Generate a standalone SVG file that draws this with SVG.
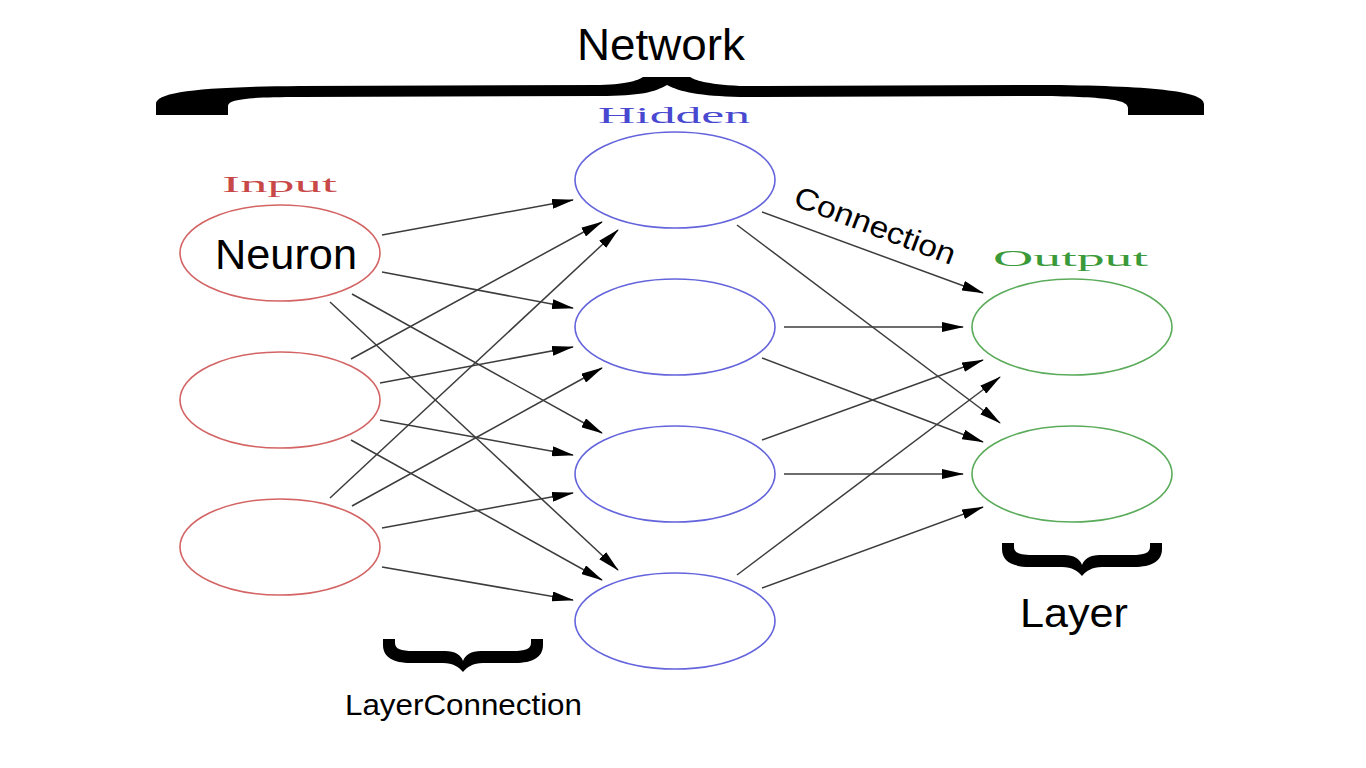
<svg xmlns="http://www.w3.org/2000/svg" width="1366" height="768" viewBox="0 0 1366 768">
<style>
.in{fill:none;stroke:#d46464;stroke-width:1.6}
.hid{fill:none;stroke:#6464dc;stroke-width:1.6}
.out{fill:none;stroke:#5aab5a;stroke-width:1.6}
.lbl{font-family:"Liberation Serif",serif;font-size:23px}
.big{font-family:"Liberation Sans",Arial,sans-serif;fill:#000}
.conn line{stroke:#3c3c3c;stroke-width:1.5;marker-end:url(#ah)}
.brace{fill:#000}
</style>
<defs>
<marker id="ah" markerUnits="userSpaceOnUse" markerWidth="22" markerHeight="10" refX="21" refY="5" orient="auto" viewBox="0 0 22 10">
<path d="M0,0 L22,5 L0,10 Z" fill="#000"/>
</marker>
<path id="smallbrace" d="M0,0 L12,0 L12,4 C12,10 18,12 30,12 L62,12 C72,12 78,16 80,22 C82,16 88,12 98,12 L130,12 C142,12 148,10 148,4 L148,0 L160,0 L160,6 C160,18 150,24 132,24 L100,24 C90,24 84,28 80,33 C76,28 70,24 60,24 L28,24 C10,24 0,18 0,6 Z"/>
</defs>
<rect width="1366" height="768" fill="#fff"/>

<g id="network-label">
<path class="brace" d="M156,115 L156,104 C156,92 200,87 300,86 L600,85 C630,84 638,80 643,77 L690,77 C695,80 705,84 740,86 L1050,85 C1160,86 1204,92 1204,104 L1204,115 L1128,115 L1128,108 C1128,100 1110,97 1040,96 L740,97 C700,96 680,92 667,85 C655,92 640,96 600,96 L300,97 C250,97 228,99 228,106 L228,115 Z"/>
<text class="big" x="577" y="60" font-size="44" textLength="168" lengthAdjust="spacingAndGlyphs">Network</text>
</g>

<g id="layer-labels">
<text class="lbl" x="222" y="192" fill="#c84848" textLength="115" lengthAdjust="spacingAndGlyphs">Input</text>
<text class="lbl" x="598" y="123" fill="#4848d0" textLength="152" lengthAdjust="spacingAndGlyphs">Hidden</text>
<text class="lbl" x="993" y="266" fill="#3a9a3a" textLength="155" lengthAdjust="spacingAndGlyphs">Output</text>
</g>

<g id="input1"><ellipse class="in" cx="280" cy="253" rx="100" ry="48"/>
<text class="big" x="215" y="269" font-size="42" textLength="142" lengthAdjust="spacingAndGlyphs">Neuron</text></g>
<g id="input2"><ellipse class="in" cx="280" cy="400" rx="100" ry="48"/></g>
<g id="input3"><ellipse class="in" cx="280" cy="547" rx="100" ry="48"/></g>

<g id="hidden1"><ellipse class="hid" cx="675" cy="180" rx="100" ry="48"/></g>
<g id="hidden2"><ellipse class="hid" cx="675" cy="327" rx="100" ry="48"/></g>
<g id="hidden3"><ellipse class="hid" cx="675" cy="474" rx="100" ry="48"/></g>
<g id="hidden4"><ellipse class="hid" cx="675" cy="621" rx="100" ry="48"/></g>

<g id="output1"><ellipse class="out" cx="1072" cy="327" rx="100" ry="48"/></g>
<g id="output2"><ellipse class="out" cx="1072" cy="474" rx="100" ry="48"/></g>

<g id="connectors" class="conn">
<line x1="382" y1="235" x2="573" y2="200"/>
<line x1="382" y1="272" x2="573" y2="308"/>
<line x1="352" y1="294" x2="602" y2="433"/>
<line x1="330" y1="302" x2="618" y2="570"/>
<line x1="351" y1="359" x2="602" y2="222"/>
<line x1="380" y1="383" x2="573" y2="347"/>
<line x1="380" y1="420" x2="573" y2="455"/>
<line x1="351" y1="440" x2="602" y2="580"/>
<line x1="330" y1="498" x2="618" y2="230"/>
<line x1="352" y1="506" x2="602" y2="368"/>
<line x1="382" y1="528" x2="573" y2="493"/>
<line x1="382" y1="567" x2="573" y2="600"/>
<line x1="762" y1="212" x2="983" y2="293"/>
<line x1="737" y1="225" x2="1000" y2="423"/>
<line x1="784" y1="327" x2="963" y2="327"/>
<line x1="762" y1="358" x2="983" y2="442"/>
<line x1="762" y1="440" x2="983" y2="360"/>
<line x1="784" y1="474" x2="963" y2="474"/>
<line x1="737" y1="575" x2="1000" y2="377"/>
<line x1="762" y1="588" x2="983" y2="507"/>
</g>

<g id="connection-label">
<text class="big" transform="translate(792,205) rotate(20.7)" x="0" y="0" font-size="30" textLength="170" lengthAdjust="spacingAndGlyphs">Connection</text>
</g>

<g id="layerconnection-label">
<use href="#smallbrace" class="brace" transform="translate(383,639)"/>
<text class="big" x="345" y="715" font-size="30" textLength="237" lengthAdjust="spacingAndGlyphs">LayerConnection</text>
</g>

<g id="layer-label">
<use href="#smallbrace" class="brace" transform="translate(1002,543)"/>
<text class="big" x="1020" y="627" font-size="40" textLength="108" lengthAdjust="spacingAndGlyphs">Layer</text>
</g>
</svg>
